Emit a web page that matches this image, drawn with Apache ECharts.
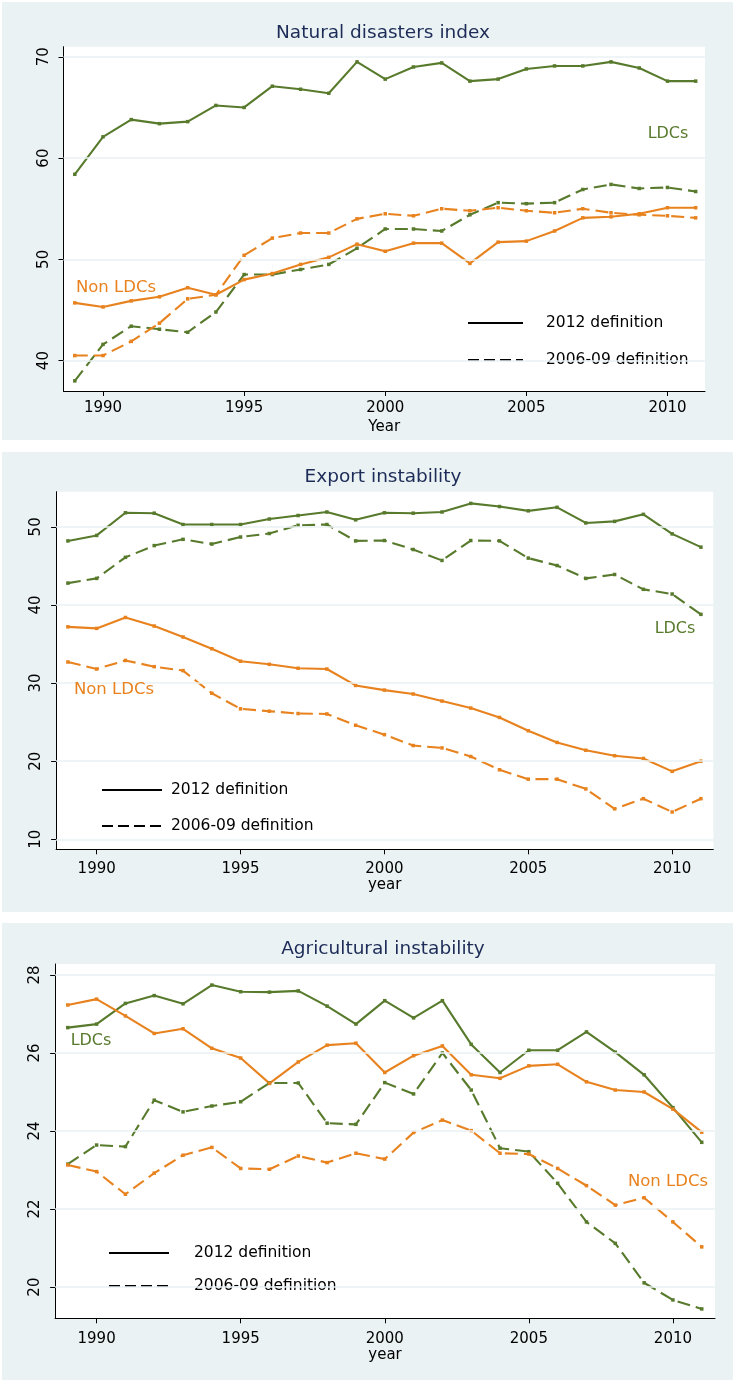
<!DOCTYPE html>
<html>
<head>
<meta charset="utf-8">
<style>
  html, body { margin: 0; padding: 0; background: #ffffff; }
  #chart { width: 733px; height: 1380px; }
</style>
<script src="https://cdn.jsdelivr.net/npm/echarts@6.0.0/dist/echarts.min.js"></script>
</head>
<body>
<div id="chart"></div>
<script>
// ---------------- DATA ----------------
const years = [1989,1990,1991,1992,1993,1994,1995,1996,1997,1998,1999,2000,2001,2002,2003,2004,2005,2006,2007,2008,2009,2010,2011];
const xTicks = [1990,1995,2000,2005,2010];

// Natural disasters index
const ndTitle = 'Natural disasters index';
const ndYTicks = [40,50,60,70];
const ndLdc2012 = [58.4,62.1,63.8,63.4,63.6,65.2,65.0,67.1,66.8,66.4,69.5,67.8,69.0,69.4,67.6,67.8,68.8,69.1,69.1,69.5,68.9,67.6,67.6];
const ndLdc0609 = [38.0,41.6,43.4,43.1,42.8,44.8,48.5,48.5,49.0,49.5,51.1,53.0,53.0,52.8,54.4,55.6,55.5,55.6,56.9,57.4,57.0,57.1,56.7];
const ndNon2012 = [45.7,45.3,45.9,46.3,47.2,46.5,48.0,48.6,49.5,50.2,51.5,50.8,51.6,51.6,49.6,51.7,51.8,52.8,54.1,54.2,54.5,55.1,55.1];
const ndNon0609 = [40.5,40.5,41.9,43.7,46.1,46.5,50.4,52.1,52.6,52.6,54.0,54.5,54.3,55.0,54.8,55.1,54.8,54.6,55.0,54.6,54.4,54.3,54.1];

// Export instability
const exTitle = 'Export instability';
const exYTicks = [10,20,30,40,50];
const exLdc2012 = [48.2,48.9,51.8,51.75,50.3,50.3,50.3,51.0,51.45,51.9,50.9,51.8,51.75,51.9,53.0,52.6,52.05,52.5,50.5,50.7,51.6,49.1,47.4];
const exLdc0609 = [42.8,43.4,46.1,47.6,48.4,47.8,48.7,49.15,50.2,50.3,48.2,48.25,47.1,45.7,48.25,48.2,46.0,45.05,43.4,43.9,42.0,41.4,38.8];
const exNon2012 = [37.2,37.0,38.4,37.3,35.9,34.4,32.8,32.4,31.9,31.8,29.7,29.1,28.6,27.7,26.8,25.6,23.9,22.4,21.4,20.7,20.35,18.7,20.0];
const exNon0609 = [32.7,31.8,32.9,32.1,31.6,28.7,26.7,26.4,26.1,26.05,24.6,23.4,22.0,21.7,20.6,18.9,17.7,17.7,16.45,13.9,15.2,13.5,15.2];

// Agricultural instability
const agTitle = 'Agricultural instability';
const agYTicks = [20,22,24,26,28];
const agLdc2012 = [26.65,26.74,27.27,27.47,27.26,27.74,27.57,27.56,27.59,27.2,26.74,27.34,26.9,27.34,26.22,25.5,26.07,26.07,26.54,26.02,25.44,24.6,23.71];
const agLdc0609 = [23.15,23.64,23.6,24.79,24.49,24.64,24.75,25.23,25.23,24.2,24.17,25.24,24.95,26.0,25.05,23.56,23.47,22.66,21.67,21.12,20.11,19.67,19.44];
const agNon2012 = [27.23,27.38,26.95,26.5,26.62,26.12,25.87,25.22,25.77,26.2,26.25,25.5,25.93,26.18,25.44,25.35,25.67,25.71,25.26,25.05,25.0,24.56,23.97];
const agNon0609 = [23.13,22.96,22.38,22.92,23.38,23.58,23.04,23.02,23.36,23.19,23.43,23.28,23.96,24.28,24.01,23.43,23.41,23.04,22.6,22.1,22.29,21.67,21.03];

const legendNames = ['2012 definition', '2006-09 definition'];
const groupLabels = ['LDCs', 'Non LDCs'];
const xNames = ['Year', 'year', 'year'];

// ---------------- STYLE / LAYOUT ----------------
const FONT = 'DejaVu Sans';
const GREEN = '#587a2c';
const ORANGE = '#e8821e';
const BG = '#eaf2f3';
const TITLE_COLOR = '#1c2b57';
const DASH = [13, 6];

const panels = [
  { title: ndTitle, yTicks: ndYTicks, ldc: [ndLdc2012, ndLdc0609], non: [ndNon2012, ndNon0609],
    bg: [2, 2, 731, 438], titleY: 24,
    grid: { left: 63.5, top: 46.7, width: 641.5, height: 344.3 },
    xMin: 1988.6, xMax: 2011.33, yMin: 37, yMax: 71,
    xLabelMargin: 10, nameGap: 29,
    legend: { left: 467, top: 315, itemWidth: 55, itemGap: 21, pad: 18 },
    ldcLabel: [668, 134], nonLabel: [116, 288] },
  { title: exTitle, yTicks: exYTicks, ldc: [exLdc2012, exLdc0609], non: [exNon2012, exNon0609],
    bg: [2, 452, 731, 460], titleY: 468,
    grid: { left: 56.1, top: 491.7, width: 657.2, height: 357.6 },
    xMin: 1988.59, xMax: 2011.43, yMin: 8.72, yMax: 54.5,
    xLabelMargin: 12, nameGap: 25,
    legend: { left: 101, top: 782, itemWidth: 60, itemGap: 20, pad: 4 },
    ldcLabel: [675, 629], nonLabel: [114, 690] },
  { title: agTitle, yTicks: agYTicks, ldc: [agLdc2012, agLdc0609], non: [agNon2012, agNon0609],
    bg: [2, 923, 731, 457], titleY: 940,
    grid: { left: 55.1, top: 964, width: 659.9, height: 354.3 },
    xMin: 1988.56, xMax: 2011.46, yMin: 19.2, yMax: 28.28,
    xLabelMargin: 13, nameGap: 26.5,
    legend: { left: 108, top: 1245, itemWidth: 60, itemGap: 17, pad: 20 },
    ldcLabel: [91, 1041], nonLabel: [668, 1182] }
];

function pairs(vals) { return years.map((y, i) => [y, vals[i]]); }

const option = {
  animation: false,
  backgroundColor: '#ffffff',
  title: [], grid: [], xAxis: [], yAxis: [], series: [], legend: [], graphic: []
};

panels.forEach((p, i) => {
  option.graphic.push({
    type: 'rect', z: -100, silent: true,
    shape: { x: p.bg[0], y: p.bg[1], width: p.bg[2], height: p.bg[3] },
    style: { fill: BG }
  });
  option.title.push({
    text: p.title, left: 383, top: p.titleY, textAlign: 'center', padding: 0,
    textStyle: { fontFamily: FONT, fontSize: 18.5, fontWeight: 'normal', color: TITLE_COLOR }
  });
  option.grid.push(Object.assign({ show: true, backgroundColor: '#ffffff', borderWidth: 0, containLabel: false }, p.grid));
  option.xAxis.push({
    type: 'value', gridIndex: i, min: p.xMin, max: p.xMax,
    name: xNames[i], nameLocation: 'middle', nameGap: p.nameGap,
    nameTextStyle: { fontFamily: FONT, fontSize: 15, color: '#000' },
    axisLine: { show: true, onZero: false, lineStyle: { color: '#000', width: 1 } },
    axisTick: { show: true, length: 5, customValues: xTicks, lineStyle: { color: '#000', width: 1 } },
    axisLabel: { customValues: xTicks, formatter: v => String(Math.round(v)),
      fontFamily: FONT, fontSize: 15, color: '#000', margin: p.xLabelMargin },
    splitLine: { show: false }
  });
  option.yAxis.push({
    type: 'value', gridIndex: i, min: p.yMin, max: p.yMax,
    axisLine: { show: true, onZero: false, lineStyle: { color: '#000', width: 1 } },
    axisTick: { show: true, length: 5, customValues: p.yTicks, lineStyle: { color: '#000', width: 1 } },
    axisLabel: { customValues: p.yTicks, rotate: 90, formatter: v => String(Math.round(v)),
      fontFamily: FONT, fontSize: 15, color: '#000', margin: 12 },
    splitLine: { show: false }
  });
  // light gridlines at the tick values
  option.series.push({
    type: 'line', xAxisIndex: i, yAxisIndex: i, data: [], silent: true, z: 1,
    markLine: {
      silent: true, symbol: ['none', 'none'], label: { show: false }, animation: false,
      lineStyle: { color: BG, width: 1.6, type: 'solid' },
      emphasis: { disabled: true },
      data: p.yTicks.map(v => ({ yAxis: v }))
    }
  });
  const defs = [
    { vals: p.ldc[0], color: GREEN, dash: 'solid', name: groupLabels[0] + ' ' + legendNames[0] },
    { vals: p.ldc[1], color: GREEN, dash: DASH, name: groupLabels[0] + ' ' + legendNames[1] },
    { vals: p.non[0], color: ORANGE, dash: 'solid', name: groupLabels[1] + ' ' + legendNames[0] },
    { vals: p.non[1], color: ORANGE, dash: DASH, name: groupLabels[1] + ' ' + legendNames[1] }
  ];
  defs.forEach(d => {
    option.series.push({
      type: 'line', name: d.name, xAxisIndex: i, yAxisIndex: i, z: 3,
      data: pairs(d.vals), symbol: 'rect', symbolSize: 3.5, showSymbol: true,
      itemStyle: { color: d.color }, lineStyle: { color: d.color, width: 2.1, type: d.dash },
      emphasis: { disabled: true }, silent: true
    });
  });
  option.legend.push({
    orient: 'vertical', left: p.legend.left, top: p.legend.top, padding: 0,
    itemWidth: p.legend.itemWidth, itemHeight: 14, itemGap: p.legend.itemGap,
    selectedMode: false, data: legendNames,
    itemStyle: { opacity: 0 },
    textStyle: { fontFamily: FONT, fontSize: 15.5, color: '#000', padding: [0, 0, 0, p.legend.pad] }
  });
  option.graphic.push({
    type: 'text', x: p.ldcLabel[0], y: p.ldcLabel[1], silent: true, z: 10,
    style: { text: groupLabels[0], fill: GREEN, font: '16px "' + FONT + '"', textAlign: 'center', textVerticalAlign: 'middle' }
  });
  option.graphic.push({
    type: 'text', x: p.nonLabel[0], y: p.nonLabel[1], silent: true, z: 10,
    style: { text: groupLabels[1], fill: ORANGE, font: '16.5px "' + FONT + '"', textAlign: 'center', textVerticalAlign: 'middle' }
  });
});

// black legend keys
option.series.push({
  type: 'line', name: legendNames[0], xAxisIndex: 0, yAxisIndex: 0, data: [], symbol: 'none',
  itemStyle: { color: '#000' }, lineStyle: { color: '#000', width: 2, type: 'solid' }
});
option.series.push({
  type: 'line', name: legendNames[1], xAxisIndex: 0, yAxisIndex: 0, data: [], symbol: 'none',
  itemStyle: { color: '#000' }, lineStyle: { color: '#000', width: 2, type: [11, 5] }
});

const chart = echarts.init(document.getElementById('chart'), null, { renderer: 'canvas' });
chart.setOption(option);
</script>
</body>
</html>
